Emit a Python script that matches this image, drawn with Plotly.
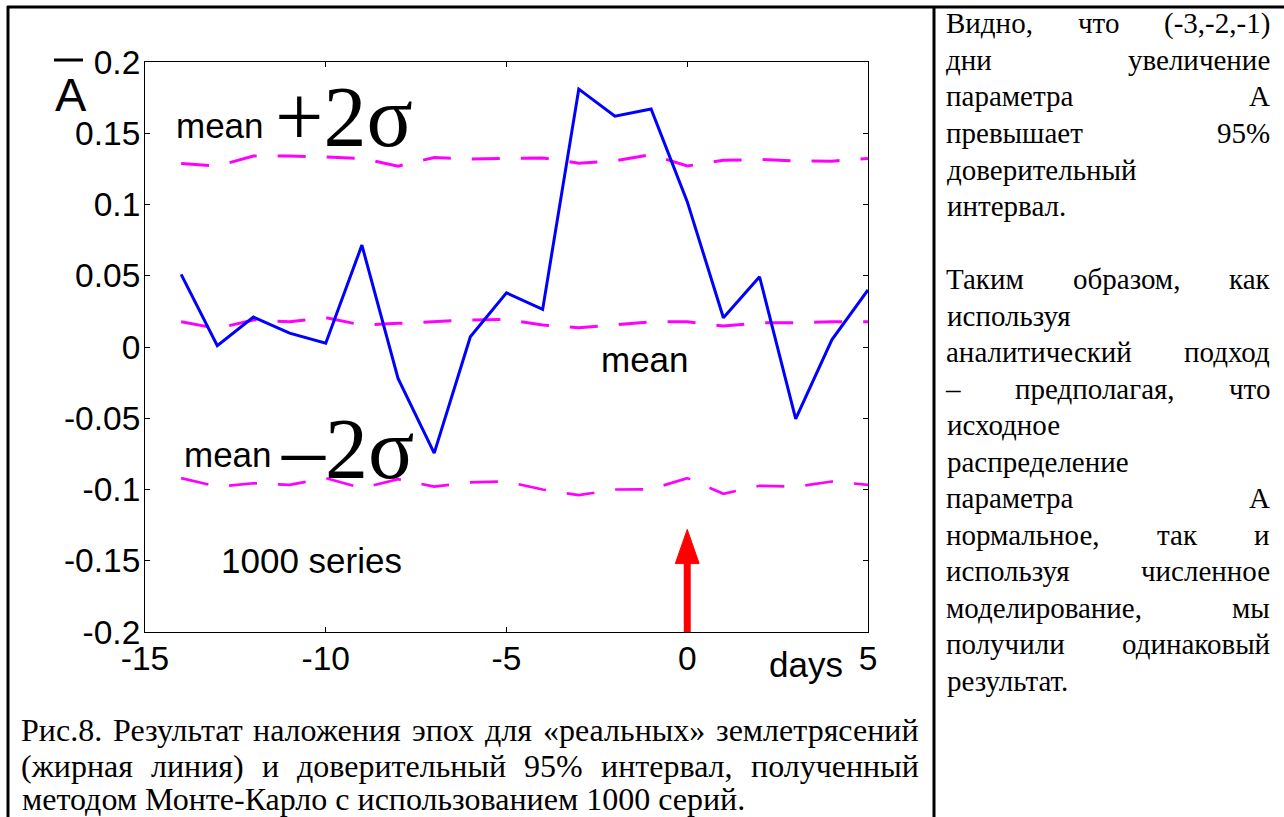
import glob
import plotly.graph_objects as go

# ---------------- data ----------------
days = [-14, -13, -12, -11, -10, -9, -8, -7, -6, -5, -4, -3, -2, -1, 0, 1, 2, 3, 4, 5]
a_real = [0.051, 0.001, 0.021, 0.0097, 0.0027, 0.0715, -0.022, -0.0745, 0.0072, 0.038,
          0.0264, 0.181, 0.162, 0.167, 0.102, 0.0205, 0.0493, -0.0505, 0.005, 0.040]
upper_2s = [0.1288, 0.127, 0.134, 0.134, 0.1334, 0.1323, 0.1269, 0.133, 0.132, 0.1323,
            0.1327, 0.129, 0.1306, 0.135, 0.127, 0.131, 0.1316, 0.1306, 0.1304, 0.1323]
mean_mc = [0.0177, 0.013, 0.019, 0.0177, 0.0206, 0.0154, 0.0166, 0.0177, 0.019, 0.0194,
           0.0154, 0.0135, 0.0154, 0.0177, 0.0177, 0.0147, 0.017, 0.017, 0.0177, 0.0177]
lower_2s = [-0.092, -0.098, -0.0956, -0.0967, -0.092, -0.099, -0.0928, -0.098, -0.095, -0.0944,
            -0.100, -0.104, -0.100, -0.0998, -0.092, -0.103, -0.0974, -0.098, -0.0944, -0.0967]

x_tickvals = [-15, -10, -5, 0, 5]
x_ticktext = ["-15", "-10", "-5", "0", "5"]
y_tickvals = [0.2, 0.15, 0.1, 0.05, 0, -0.05, -0.1, -0.15, -0.2]
y_ticktext = ["0.2", "0.15", "0.1", "0.05", "0", "-0.05", "-0.1", "-0.15", "-0.2"]

# event marker (arrow at day 0)
arrow_day = 0
arrow_tip = -0.128
arrow_head_base = -0.152
arrow_head_half = 0.33

# texts
right_lines = [
    ["Видно,", "что", "(-3,-2,-1)"],
    ["дни", "увеличение"],
    ["параметра", "А"],
    ["превышает", "95%"],
    ["доверительный"],
    ["интервал."],
    [],
    ["Таким", "образом,", "как"],
    ["используя"],
    ["аналитический", "подход"],
    ["–", "предполагая,", "что"],
    ["исходное"],
    ["распределение"],
    ["параметра", "А"],
    ["нормальное,", "так", "и"],
    ["используя", "численное"],
    ["моделирование,", "мы"],
    ["получили", "одинаковый"],
    ["результат."],
]
caption_lines = [
    ["Рис.8.", "Результат", "наложения", "эпох", "для", "«реальных»", "землетрясений"],
    ["(жирная", "линия)", "и", "доверительный", "95%", "интервал,", "полученный"],
    ["методом Монте-Карло с использованием 1000 серий."],
]

# ---------------- layout geometry (pixels) ----------------
FW, FH = 1284, 817
L, R, T, B = 145, 868, 62, 632
PW, PH = R - L, B - T


def px(x):
    return (x - L) / PW


def py(y):
    return (B - y) / PH


SANS = "Liberation Sans, Arial, sans-serif"
SERIF = "Liberation Serif, Times New Roman, serif"

# text width measurement (for justified text)
_font_cache = {}
_serif_path = None
for pat in ["/usr/share/fonts/**/LiberationSerif-Regular.ttf",
            "/usr/local/share/fonts/**/LiberationSerif-Regular.ttf",
            "/usr/share/fonts/**/Liberation*Serif*Regular*.ttf"]:
    found = glob.glob(pat, recursive=True)
    if found:
        _serif_path = found[0]
        break

try:
    from PIL import ImageFont
except Exception:
    ImageFont = None

_fallback = {" ": 0.25, ".": 0.25, ",": 0.25, "(": 0.333, ")": 0.333, "-": 0.333,
             "–": 0.5, "%": 0.833, "«": 0.5, "»": 0.5, "м": 0.63, "ы": 0.7, "ш": 0.75,
             "щ": 0.75, "ж": 0.7, "ю": 0.7, "д": 0.5, "ф": 0.65}


def text_width(s, size):
    if ImageFont is not None and _serif_path:
        key = size
        if key not in _font_cache:
            _font_cache[key] = ImageFont.truetype(_serif_path, size)
        try:
            return _font_cache[key].getlength(s)
        except Exception:
            pass
    w = 0.0
    for c in s:
        if c in _fallback:
            w += _fallback[c]
        elif c.isdigit():
            w += 0.5
        elif c.isupper():
            w += 0.67
        else:
            w += 0.48
    return w * size


fig = go.Figure()
dash = "28px,21px"
fig.add_trace(go.Scatter(x=days, y=upper_2s, mode="lines",
                         line=dict(color="#FF00FF", width=3, dash=dash)))
fig.add_trace(go.Scatter(x=days, y=mean_mc, mode="lines",
                         line=dict(color="#FF00FF", width=3, dash=dash)))
fig.add_trace(go.Scatter(x=days, y=lower_2s, mode="lines",
                         line=dict(color="#FF00FF", width=2.7, dash=dash)))
fig.add_trace(go.Scatter(x=days, y=a_real, mode="lines",
                         line=dict(color="#0000FF", width=3)))

axis_common = dict(showgrid=False, zeroline=False, showline=True, linecolor="black",
                   linewidth=1, mirror="ticks", ticks="inside", ticklen=5,
                   tickcolor="black", tickwidth=1,
                   tickfont=dict(family=SANS, size=33.5, color="black"))

fig.update_layout(
    width=FW, height=FH,
    margin=dict(l=L, r=FW - R, t=T, b=FH - B, pad=0),
    paper_bgcolor="white", plot_bgcolor="white",
    showlegend=False,
    xaxis=dict(range=[-15, 5], tickvals=x_tickvals, ticktext=x_ticktext,
               ticklabelstandoff=-3, **axis_common),
    yaxis=dict(range=[-0.2, 0.2], tickvals=y_tickvals, ticktext=y_ticktext,
               ticklabelstandoff=-3, **axis_common),
)

shapes = []
# arrow shaft and head
shapes.append(dict(type="line", xref="x", yref="y", x0=arrow_day, x1=arrow_day,
                   y0=-0.2, y1=arrow_head_base, line=dict(color="#FF0000", width=7)))
shapes.append(dict(type="path", xref="x", yref="y",
                   path=f"M {arrow_day - arrow_head_half},{arrow_head_base} L {arrow_day},{arrow_tip} "
                        f"L {arrow_day + arrow_head_half},{arrow_head_base} Z",
                   fillcolor="#FF0000", line=dict(color="#FF0000", width=1)))
# frame
bw = 3
shapes.append(dict(type="line", xref="paper", yref="paper", x0=px(7), x1=px(1290),
                   y0=py(7), y1=py(7), line=dict(color="black", width=bw)))
shapes.append(dict(type="line", xref="paper", yref="paper", x0=px(8), x1=px(8),
                   y0=py(6), y1=py(830), line=dict(color="black", width=bw)))
shapes.append(dict(type="line", xref="paper", yref="paper", x0=px(934), x1=px(934),
                   y0=py(6), y1=py(830), line=dict(color="black", width=bw)))
# overbar on A
shapes.append(dict(type="line", xref="paper", yref="paper", x0=px(54), x1=px(83),
                   y0=py(60), y1=py(60), line=dict(color="black", width=3)))
fig.update_layout(shapes=shapes)

ann = []


def text(s, x, y, size, family, xanchor="center"):
    ann.append(dict(text=s, x=px(x), y=py(y), xref="paper", yref="paper",
                    showarrow=False, xanchor=xanchor, yanchor="middle", borderpad=0,
                    font=dict(size=size, family=family, color="black")))


def justified(words, left, right, yc, size):
    if len(words) == 1:
        text(words[0], left, yc, size, SERIF, "left")
        return
    widths = [text_width(w, size) for w in words]
    gap = (right - left - sum(widths)) / (len(words) - 1)
    x = left
    for w, wd in zip(words, widths):
        text(w, x + wd / 2, yc, size, SERIF, "center")
        x += wd + gap


# in-plot labels
text("A", 71, 95, 47, SANS)
text("mean", 219.5, 125, 35, SANS)
text("+2σ", 344, 117, 86, SERIF)
text("mean", 227.5, 455, 35, SANS)
text("–2σ", 347, 449, 86, SERIF)
text("mean", 645, 359, 35, SANS)
text("1000 series", 311.5, 560, 35, SANS)
text("days", 806, 664, 35, SANS)

# right panel text (justified)
RL, RR = 946, 1270
for i, words in enumerate(right_lines):
    if words:
        justified(words, RL, RR, 23.5 + 36.5 * i, 29)

# caption (justified except last line)
CL, CR = 21, 919
cap_y = [730, 766, 799]
for i, words in enumerate(caption_lines):
    if i < len(caption_lines) - 1:
        justified(words, CL, CR, cap_y[i], 32)
    else:
        text(words[0], CL, cap_y[i], 32, SERIF, "left")

fig.update_layout(annotations=ann)
fig.write_html("out.html")
